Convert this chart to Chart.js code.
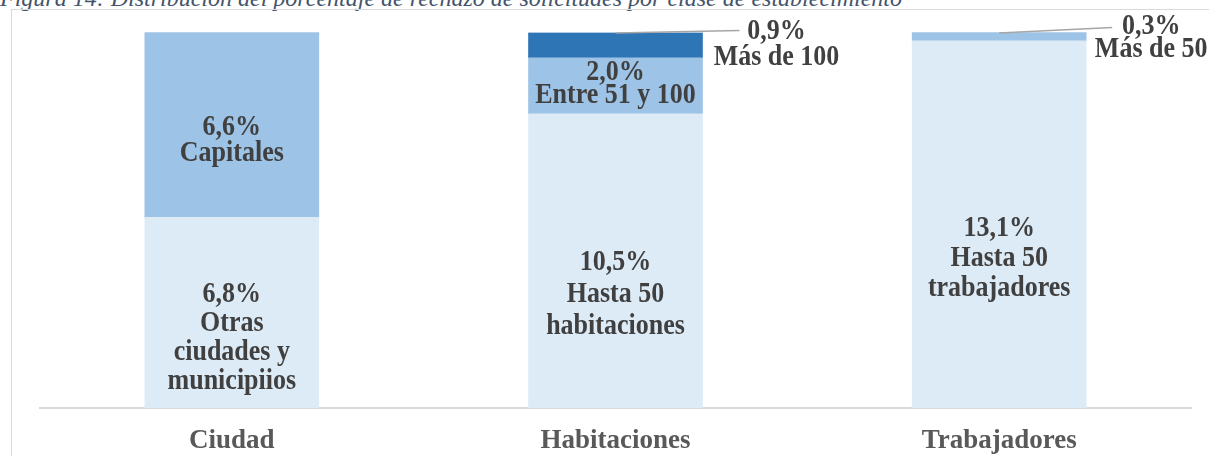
<!DOCTYPE html>
<html>
<head>
<meta charset="utf-8">
<script src="https://cdn.jsdelivr.net/npm/chart.js@4.4.1/dist/chart.umd.min.js"></script>
<style>
  body { margin: 0; background: #fff; overflow: hidden; }
  #title { position: absolute; left: 0; top: -15px; font: italic 24px 'Liberation Serif', serif; color: #44546A; white-space: nowrap; }
  #frame { position: absolute; left: 11px; top: 9px; width: 1400px; height: 700px; border: 1.5px solid #D9D9D9; }
  #wrap { position: absolute; left: 0; top: 0; width: 1209px; height: 456px; }
</style>
</head>
<body>
<div id="title">Figura 14: Distribución del porcentaje de rechazo de solicitudes por clase de establecimiento</div>
<div id="frame"></div>
<div id="wrap"><canvas id="chart"></canvas></div>
<script>
const categories = ['Ciudad', 'Habitaciones', 'Trabajadores'];

// rechazo (%) por segmento
const lowerValues = [6.8, 10.5, 13.1];
const middleValues = [6.6, 2.0, 0.3];
const upperValues = [0, 0.9, 0];

const lowerNames = [['Otras', 'ciudades y', 'municipiios'], ['Hasta 50', 'habitaciones'], ['Hasta 50', 'trabajadores']];
const middleNames = [['Capitales'], ['Entre 51 y 100'], ['Más de 50']];
const upperNames = [[], ['Más de 100'], []];

const segmentNames = [lowerNames, middleNames, upperNames];

const fmt = v => v.toFixed(1).replace('.', ',') + '%';

// label placement, keyed "dataset-index"
const insideNudge = { '0-0': 25, '0-1': 34, '0-2': 34, '1-0': 15, '1-1': -2 };
const insideGap = { '0-0': 29, '0-1': 32, '0-2': 30, '1-0': 26, '1-1': 23 };
const outside = {
  '2-1': { dx: 161, dy: -1.5, gap: 26, endX: -37, endY: -2 },
  '1-2': { dx: 152, dy: -6, gap: 23, endX: -39, endY: -5 }
};

function tallText(ctx, t, x, y) {
  ctx.save();
  ctx.translate(x, y);
  ctx.scale(1, 1.13);
  ctx.fillText(t, 0, 0);
  ctx.restore();
}

const segmentLabels = {
  id: 'segmentLabels',
  afterDatasetsDraw(chart) {
    const ctx = chart.ctx;
    ctx.save();
    ctx.font = 'bold 26px "Liberation Serif", serif';
    ctx.fillStyle = '#404040';
    ctx.textAlign = 'center';
    ctx.textBaseline = 'middle';
    chart.data.datasets.forEach((ds, i) => {
      const meta = chart.getDatasetMeta(i);
      meta.data.forEach((bar, j) => {
        const v = ds.data[j];
        if (!v) return;
        const key = i + '-' + j;
        const lines = [fmt(v)].concat(segmentNames[i][j]);
        const top = Math.min(bar.y, bar.base);
        if (outside[key]) {
          const o = outside[key];
          const lx = bar.x + o.dx;
          const ly = top + o.dy;
          ctx.beginPath();
          ctx.strokeStyle = '#A6A6A6';
          ctx.lineWidth = 1.5;
          ctx.moveTo(bar.x, top + 0.5);
          ctx.lineTo(lx + o.endX, top + o.endY);
          ctx.stroke();
          lines.forEach((t, k) => tallText(ctx, t, lx, ly + k * o.gap));
        } else {
          const gap = insideGap[key] || 28;
          const cy = (bar.y + bar.base) / 2 + (insideNudge[key] || 0);
          const y0 = cy - (lines.length - 1) * gap / 2;
          lines.forEach((t, k) => tallText(ctx, t, bar.x, y0 + k * gap));
        }
      });
    });
    ctx.restore();
  }
};

new Chart(document.getElementById('chart'), {
  type: 'bar',
  data: {
    labels: categories,
    datasets: [
      { data: lowerValues, backgroundColor: '#DDEBF7' },
      { data: middleValues, backgroundColor: '#9DC3E6' },
      { data: upperValues, backgroundColor: '#2E75B6' }
    ]
  },
  options: {
    responsive: true,
    maintainAspectRatio: false,
    animation: false,
    barThickness: 174,
    layout: { padding: { left: 40, right: 18, top: 32.5, bottom: 0 } },
    plugins: { legend: { display: false }, tooltip: { enabled: false } },
    scales: {
      x: {
        stacked: true,
        grid: { display: false, drawTicks: false },
        border: { display: true, color: '#D9D9D9', width: 2 },
        ticks: { color: '#595959', padding: 17, font: { family: '"Liberation Serif", serif', size: 27, weight: 'bold' } },
        afterFit(scale) { scale.height = 48; }
      },
      y: {
        stacked: true,
        display: false,
        min: 0,
        max: 13.4
      }
    }
  },
  plugins: [segmentLabels]
});
</script>
</body>
</html>
